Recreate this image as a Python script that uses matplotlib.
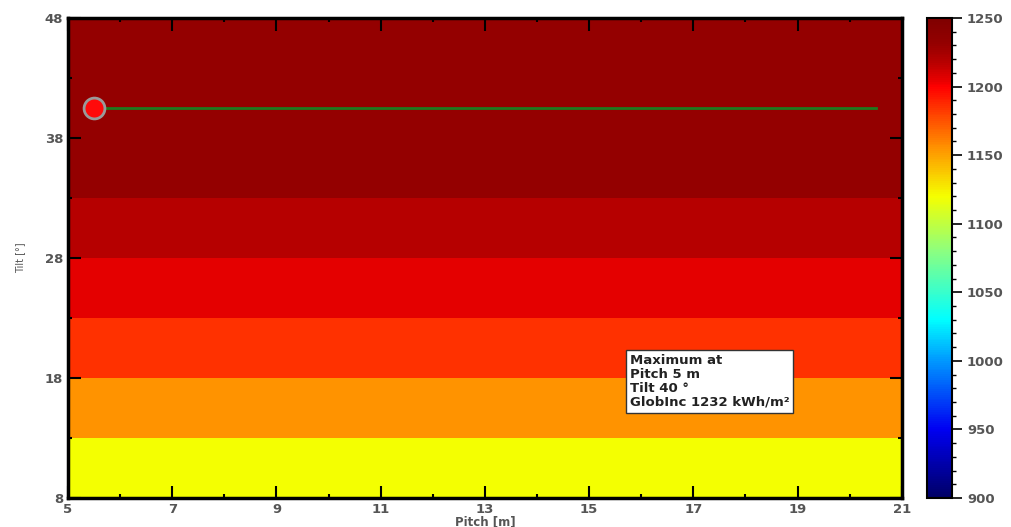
import numpy as np
import matplotlib.pyplot as plt
from matplotlib.colors import LinearSegmentedColormap, Normalize
from matplotlib.cm import ScalarMappable
from matplotlib.ticker import MultipleLocator

# GlobInc [kWh/m2] per tilt band (constant across pitch)
tilt_edges = [8, 13, 18, 23, 28, 33, 48]
globinc_band = [1120, 1155, 1185, 1205, 1218, 1232]
pitch_edges = np.arange(5, 22, 1)

# optimum tilt over the pitch range
best_pitch = 5
best_tilt = 40
best_globinc = 1232
ridge_pitch = [5, 20]

# colour scale, jet-like with a dark red top
nodes = [(900, (0.0, 0.0, 0.40)), (950, (0.0, 0.0, 0.95)), (1000, (0.0, 0.6, 1.0)),
         (1030, (0.0, 1.0, 1.0)), (1080, (0.55, 1.0, 0.5)), (1120, (0.96, 1.0, 0.0)),
         (1155, (1.0, 0.58, 0.0)), (1185, (1.0, 0.2, 0.0)), (1200, (1.0, 0.0, 0.0)),
         (1205, (0.91, 0.0, 0.0)), (1218, (0.72, 0.0, 0.0)), (1232, (0.58, 0.0, 0.0)),
         (1250, (0.50, 0.0, 0.0))]
vmin, vmax = 900, 1250
cmap = LinearSegmentedColormap.from_list(
    'globinc', [((v - vmin) / (vmax - vmin), c) for v, c in nodes])
norm = Normalize(vmin, vmax)

fig = plt.figure(figsize=(10.11, 5.27), dpi=100)
ax = fig.add_axes([0.0673, 0.055, 0.8247, 0.911])
cax = fig.add_axes([0.917, 0.055, 0.025, 0.911])

Z = np.repeat(np.array(globinc_band)[:, None], len(pitch_edges) - 1, axis=1)
ax.pcolormesh(pitch_edges, tilt_edges, Z, cmap=cmap, norm=norm, shading='flat')

# ridge line and maximum marker at cell centres
ax.plot([p + 0.5 for p in ridge_pitch], [best_tilt + 0.5] * 2, color='#1f7a1f', lw=2, zorder=3)
ax.plot(best_pitch + 0.5, best_tilt + 0.5, 'o', ms=15, mfc='#ff0a0a', mec='#9a9a9a', mew=2, zorder=4)

ax.set_xlim(5, 21)
ax.set_ylim(8, 48)
ax.set_xticks(np.arange(5, 22, 2))
ax.set_xticks(np.arange(5, 22, 1), minor=True)
ax.set_yticks(np.arange(8, 49, 10))
ax.set_yticks(np.arange(8, 49, 5), minor=True)
ax.tick_params(which='both', direction='in', top=True, right=True, width=1.5, colors='black',
               labelcolor='#555555', labelsize=9.5)
ax.tick_params(which='major', length=9)
ax.tick_params(which='minor', length=3)
for lab in ax.get_xticklabels() + ax.get_yticklabels():
    lab.set_fontweight('bold')
for s in ax.spines.values():
    s.set_linewidth(2.5)

ax.set_xlabel('Pitch [m]', fontsize=8.5, fontweight='bold', color='#555555', labelpad=0)
ax.set_ylabel('Tilt [°]', fontsize=7, color='#555555', labelpad=14)

ax.text(15.78, 20.0, f'Maximum at\nPitch {best_pitch} m\nTilt {best_tilt} °\nGlobInc {best_globinc} kWh/m²',
        fontsize=9.5, fontweight='bold', color='#222222', va='top', ha='left', linespacing=1.1,
        bbox=dict(boxstyle='square,pad=0.3', fc='white', ec='#333333', lw=1), zorder=5)

cb = fig.colorbar(ScalarMappable(norm=norm, cmap=cmap), cax=cax)
cb.set_ticks(np.arange(900, 1251, 50))
cb.ax.yaxis.set_minor_locator(MultipleLocator(10))
cb.ax.tick_params(which='major', length=7, width=1.2, labelsize=9.5, labelcolor='#555555')
cb.ax.tick_params(which='minor', length=3, width=1)
for lab in cb.ax.get_yticklabels():
    lab.set_fontweight('bold')
cb.outline.set_linewidth(1.5)

fig.savefig('out.png', dpi=100)
